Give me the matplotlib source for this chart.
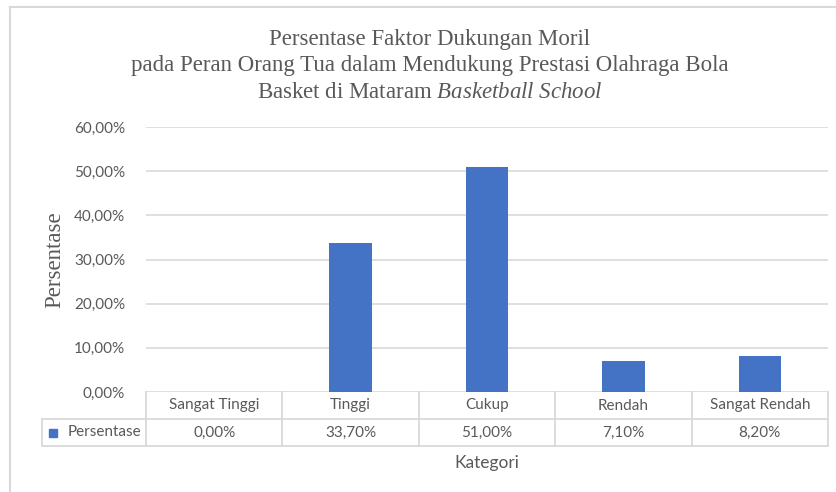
import matplotlib
matplotlib.use("Agg")
import matplotlib.pyplot as plt
from matplotlib.transforms import blended_transform_factory
from matplotlib.patches import Rectangle
from matplotlib.lines import Line2D

categories = ["Sangat Tinggi", "Tinggi", "Cukup", "Rendah", "Sangat Rendah"]
values = [0.00, 33.70, 51.00, 7.10, 8.20]
value_labels = ["0,00%", "33,70%", "51,00%", "7,10%", "8,20%"]
series_name = "Persentase"
yticks = [0, 10, 20, 30, 40, 50, 60]
ytick_labels = ["0,00%", "10,00%", "20,00%", "30,00%", "40,00%", "50,00%", "60,00%"]

plt.rcParams["mathtext.fontset"] = "custom"
plt.rcParams["mathtext.it"] = "Liberation Serif:italic"
plt.rcParams["mathtext.rm"] = "Liberation Serif"

W, H = 836, 492
fig = plt.figure(figsize=(W / 100, H / 100), dpi=100)
fig.patch.set_facecolor("white")

# outer chart border
fig.add_artist(Line2D([10 / W, 10 / W], [0, 1 - 7 / H], transform=fig.transFigure, color="#D9D9D9", lw=1.5))
fig.add_artist(Line2D([10 / W, 1], [1 - 7 / H, 1 - 7 / H], transform=fig.transFigure, color="#D9D9D9", lw=1.5))

x0, x1 = 146, 828
ytop, ybot = 127, 392
ax = fig.add_axes([x0 / W, 1 - ybot / H, (x1 - x0) / W, (ybot - ytop) / H])

sans = "Lato"
serif = "Liberation Serif"
gray = "#595959"
grid = "#D9D9D9"
fs = 11

xs = list(range(len(categories)))
ax.bar(xs, values, width=0.31, color="#4472C4", zorder=3)
ax.set_xlim(-0.5, len(categories) - 0.5)
ax.set_ylim(0, 60)
ax.set_yticks(yticks)
ax.set_yticklabels(ytick_labels, fontfamily=sans, fontsize=fs, color=gray)
ax.tick_params(axis="y", length=0, pad=15)
ax.set_xticks([])
for s in ax.spines.values():
    s.set_visible(False)
ax.yaxis.grid(True, color=grid, lw=1.2, zorder=0)
ax.set_axisbelow(True)

ax.set_ylabel("Persentase", fontfamily=serif, fontsize=16.5, color=gray, labelpad=6)

# data table
tr = blended_transform_factory(ax.transData, ax.transAxes)
axh = ybot - ytop
r1 = -27 / axh
r2 = -54 / axh
lc = "#D9D9D9"
n = len(categories)
bounds = [i - 0.5 for i in range(n + 1)]
for b in bounds:
    ax.add_line(Line2D([b, b], [0, r2], transform=tr, color=lc, lw=1.3, clip_on=False))
ax.add_line(Line2D([-0.5, n - 0.5], [r1, r1], transform=tr, color=lc, lw=1.3, clip_on=False))
ax.add_line(Line2D([-0.5, n - 0.5], [r2, r2], transform=tr, color=lc, lw=1.3, clip_on=False))
# legend cell
lx = -0.5 - (146 - 42) / ((x1 - x0) / n)
ax.add_line(Line2D([lx, -0.5], [r1, r1], transform=tr, color=lc, lw=1.3, clip_on=False))
ax.add_line(Line2D([lx, -0.5], [r2, r2], transform=tr, color=lc, lw=1.3, clip_on=False))
ax.add_line(Line2D([lx, lx], [r1, r2], transform=tr, color=lc, lw=1.3, clip_on=False))

for i, c in enumerate(categories):
    ax.text(i, (0 + r1) / 2, c, transform=tr, ha="center", va="center", fontfamily=sans, fontsize=fs, color=gray)
    ax.text(i, (r1 + r2) / 2, value_labels[i], transform=tr, ha="center", va="center", fontfamily=sans, fontsize=fs, color=gray)

ax.text(-0.5 - 0.035, (r1 + r2) / 2, series_name, transform=tr, ha="right", va="center", fontfamily=sans, fontsize=fs, color=gray)
ax.add_patch(Rectangle((lx + 0.05, (r1 + r2) / 2 - 4 / axh), 8 / ((x1 - x0) / n), 8 / axh, transform=tr,
                       color="#4472C4", clip_on=False))

fig.text(487 / W, 1 - 463 / H, "Kategori", ha="center", va="center", fontfamily=sans, fontsize=12.5, color=gray)

# title
tcx = 430 / W
tfs = 16.5
fig.text(tcx, 1 - 40 / H, "Persentase Faktor Dukungan Moril", ha="center", va="center", fontfamily=serif, fontsize=tfs, color=gray)
fig.text(tcx, 1 - 66 / H, "pada Peran Orang Tua dalam Mendukung Prestasi Olahraga Bola", ha="center", va="center", fontfamily=serif, fontsize=tfs, color=gray)
fig.text(tcx, 1 - 92 / H, r"Basket di Mataram $\mathit{Basketball\ School}$", ha="center", va="center", fontfamily=serif, fontsize=tfs, color=gray,
         math_fontfamily="custom")

fig.savefig("out.png", dpi=100, facecolor="white")
